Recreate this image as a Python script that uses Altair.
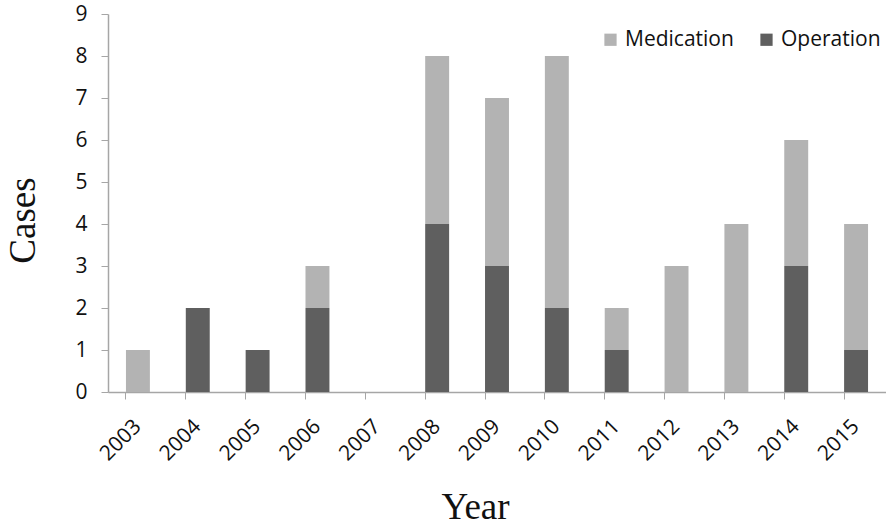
import altair as alt
import pandas as pd

# Yearly case counts, split by treatment type
years = ["2003", "2004", "2005", "2006", "2007", "2008", "2009",
         "2010", "2011", "2012", "2013", "2014", "2015"]
operation = [0, 2, 1, 2, 0, 4, 3, 2, 1, 0, 0, 3, 1]
medication = [1, 0, 0, 1, 0, 4, 4, 6, 1, 3, 4, 3, 3]

series = ["Medication", "Operation"]
series_colors = ["#b3b3b3", "#5f5f5f"]

rows = []
for y, op, med in zip(years, operation, medication):
    rows.append({"Year": y, "Type": "Operation", "Cases": op, "stack_order": 0})
    rows.append({"Year": y, "Type": "Medication", "Cases": med, "stack_order": 1})
df = pd.DataFrame(rows)

label_font = "Open Sans"
title_font = "Liberation Serif"
axis_gray = "#a6a6a6"

bars = alt.Chart(df).mark_bar().encode(
    x=alt.X(
        "Year:N",
        sort=years,
        scale=alt.Scale(paddingInner=0.6, paddingOuter=0.3),
        axis=alt.Axis(
            title="Year",
            labelAngle=-45,
            labelAlign="right",
            labelBaseline="middle",
            labelPadding=24,
            labelFont=label_font,
            labelFontSize=21,
            labelColor="#111111",
            bandPosition=0,
            tickSize=7,
            tickColor=axis_gray,
            domainColor=axis_gray,
            domainWidth=1.5,
            titleFont=title_font,
            titleFontSize=37,
            titleFontWeight="normal",
            titleColor="#111111",
            titleX=367,
            titleY=126,
            titleAlign="center",
            titleBaseline="alphabetic",
        ),
    ),
    y=alt.Y(
        "Cases:Q",
        stack="zero",
        scale=alt.Scale(domain=[0, 9], nice=False),
        axis=alt.Axis(
            title="Cases",
            values=list(range(10)),
            grid=False,
            tickSize=7,
            tickColor=axis_gray,
            domainColor=axis_gray,
            domainWidth=1.5,
            labelPadding=14,
            labelFont=label_font,
            labelFontSize=21,
            labelColor="#111111",
            titleFont=title_font,
            titleFontSize=37,
            titleFontWeight="normal",
            titleColor="#111111",
            titleAngle=-90,
            titleX=-74,
            titleY=206,
            titleAlign="center",
            titleBaseline="alphabetic",
        ),
    ),
    color=alt.Color(
        "Type:N",
        scale=alt.Scale(domain=series, range=series_colors),
        legend=alt.Legend(
            title=None,
            orient="none",
            legendX=492,
            legendY=15,
            direction="horizontal",
            symbolType="square",
            symbolSize=150,
            symbolStrokeWidth=0,
            labelFont=label_font,
            labelFontSize=21,
            labelColor="#111111",
            columnPadding=22,
            labelOffset=4,
        ),
    ),
    order=alt.Order("stack_order:Q", sort="ascending"),
)

chart = bars.properties(
    width=778,
    height=378,
    padding={"left": 108, "top": 14, "right": 0, "bottom": 135},
    autosize=alt.AutoSizeParams(type="none"),
    background="white",
).configure_view(stroke=None)

chart.save("out.html", embed_options={"renderer": "svg", "actions": False})
